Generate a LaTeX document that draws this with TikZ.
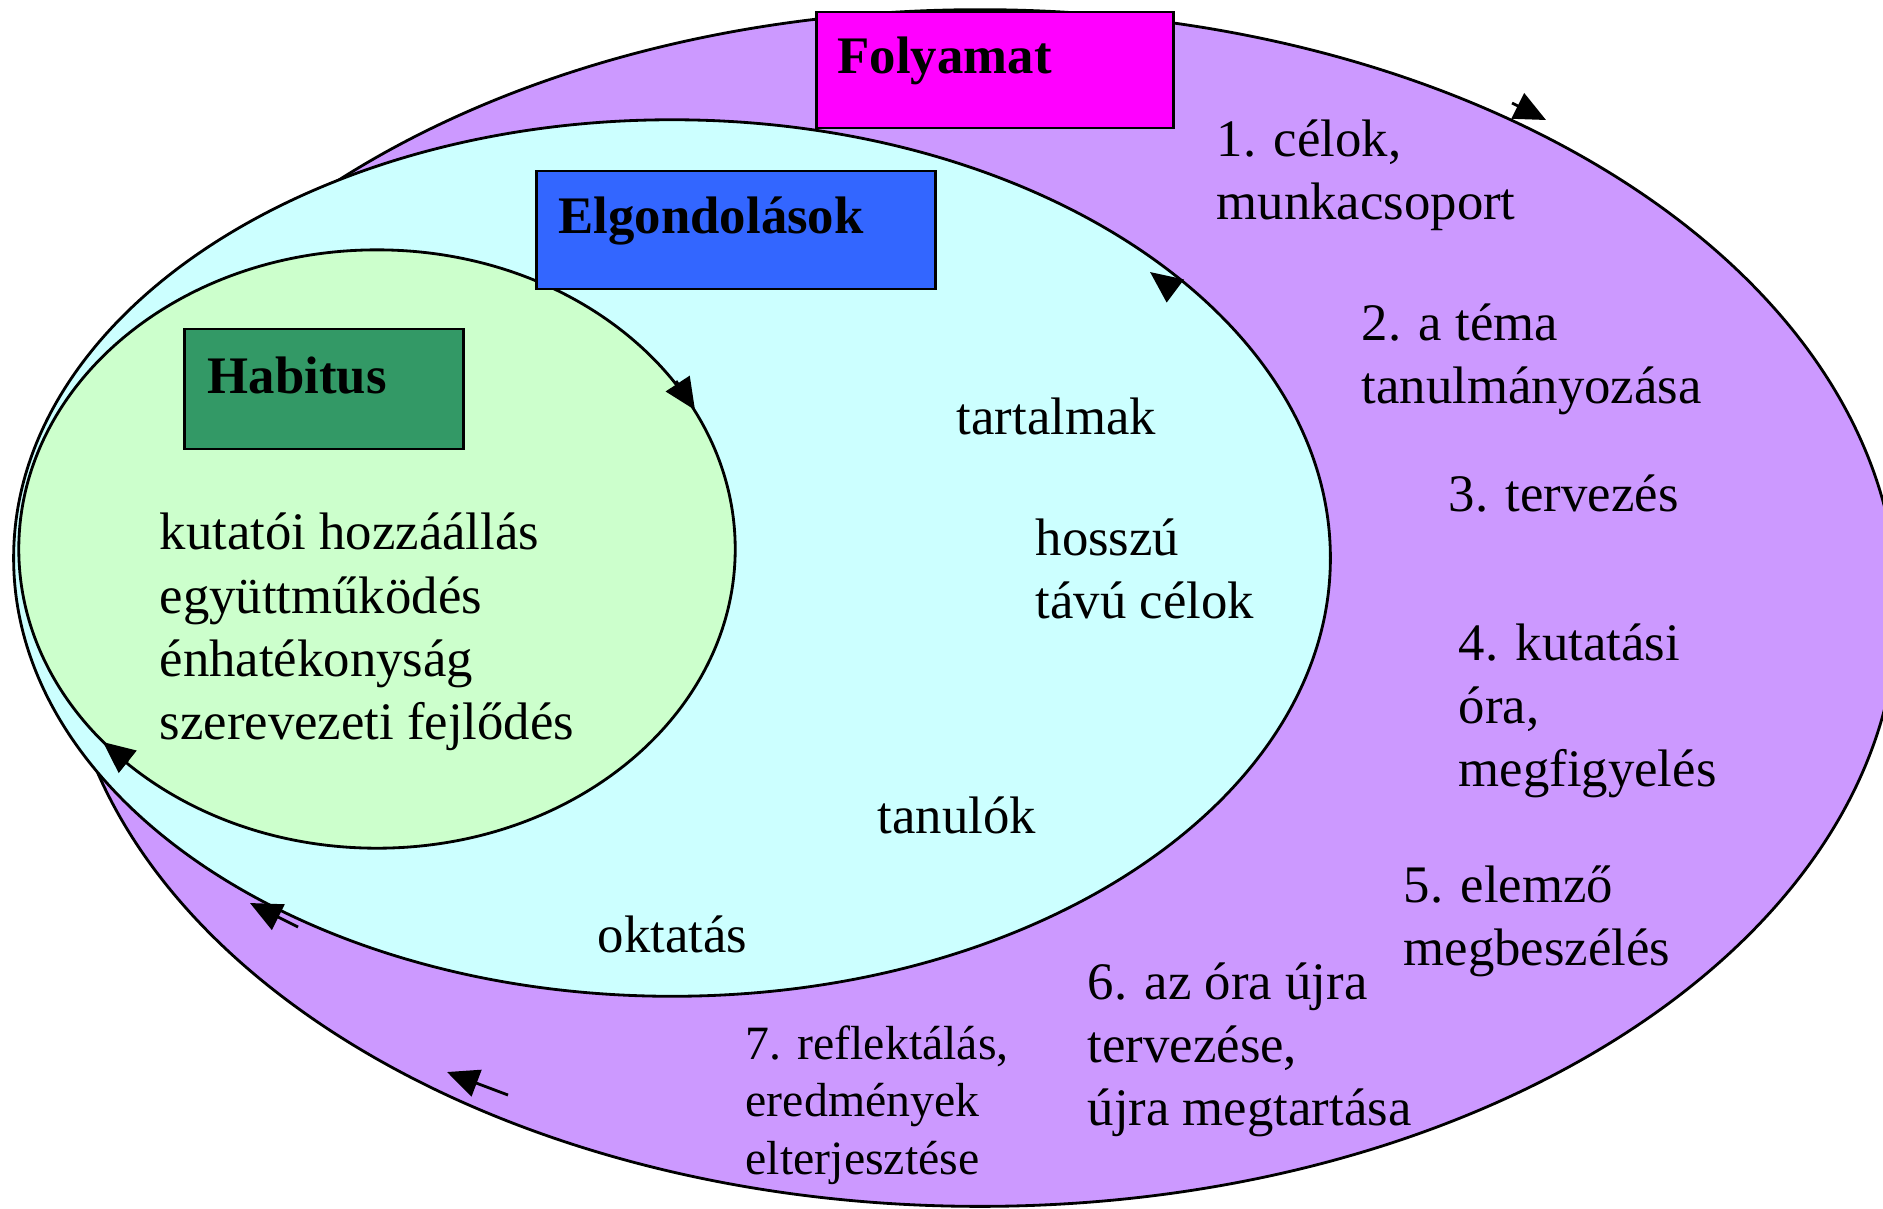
\documentclass[tikz,border=0pt]{standalone}
\usepackage{fontspec}
\setmainfont{Liberation Serif}
\usepackage{tikz}
\usetikzlibrary{shapes.geometric,arrows.meta}
\definecolor{procfill}{HTML}{CC99FF}
\definecolor{ideafill}{HTML}{CCFFFF}
\definecolor{habfill}{HTML}{CCFFCC}
\definecolor{procbox}{HTML}{FF00FF}
\definecolor{ideabox}{HTML}{3366FF}
\definecolor{habbox}{HTML}{339966}

\begin{document}
\begin{tikzpicture}[x=0.01cm,y=-0.01cm]
\tikzstyle{oval}=[ellipse, draw=black, line width=0.8pt, inner sep=0pt]
\tikzstyle{tbox}=[rectangle, draw=black, line width=0.8pt, inner sep=0pt]
\tikzstyle{title}=[anchor=west, inner sep=0pt, font=\fontsize{15}{18}\selectfont\bfseries]
\tikzstyle{txt}=[anchor=west, inner sep=0pt, align=left, font=\fontsize{15}{18}\selectfont]
\tikzstyle{small}=[txt, font=\fontsize{13.6}{16.3}\selectfont]
\tikzstyle{connect}=[-{Triangle[length=9pt,width=8pt]}, line width=0.8pt]

  \useasboundingbox (0,0) rectangle (1883,1208);
  \clip (0,0) rectangle (1883,1208);

  % the three ovals
  \node[oval, fill=procfill, minimum width=18.34cm, minimum height=11.96cm] (proc) at (980,608) {};
  \node[oval, fill=ideafill, minimum width=13.16cm, minimum height=8.76cm] (idea) at (672,558) {};
  \node[oval, fill=habfill,  minimum width=7.16cm,  minimum height=5.98cm] (hab)  at (377,549) {};

  % title boxes
  \node[tbox, fill=procbox, minimum width=3.57cm, minimum height=1.16cm] (procrect) at (995,70)  {};
  \node[tbox, fill=ideabox, minimum width=3.98cm, minimum height=1.18cm] (idearect) at (736,230) {};
  \node[tbox, fill=habbox,  minimum width=2.79cm, minimum height=1.20cm] (habrect)  at (324,389) {};

  \node[title] (proctitle) at (837,61)  {Folyamat};
  \node[title] (ideatitle) at (558,221) {Elgondolások};
  \node[title] (habtitle)  at (207,376) {Habitus};

  % steps
  \node[txt] (step1) at (1216,175) {1. célok,\\munkacsoport};
  \node[txt] (step2) at (1361,359) {2. a téma\\tanulmányozása};
  \node[txt] (step3) at (1448,494) {3. tervezés};
  \node[txt] (step4) at (1458,711) {4. kutatási\\óra,\\megfigyelés};
  \node[txt] (step5) at (1403,921) {5. elemző\\megbeszélés};
  \node[txt] (step6) at (1087,1050) {6. az óra újra\\tervezése,\\újra megtartása};
  \node[small] (step7) at (745,1105) {7. reflektálás,\\eredmények\\elterjesztése};

  \node[txt] (content)  at (956,416)  {tartalmak};
  \node[txt] (goals)    at (1035,569) {hosszú\\távú célok};
  \node[txt] (pupils)   at (877,815)  {tanulók};
  \node[txt] (teaching) at (597,934)  {oktatás};
  \node[txt] (habits)   at (159,632)  {kutatói hozzáállás\\együttműködés\\énhatékonyság\\szerevezeti fejlődés};

  % arrows along the ovals
  \coordinate (p1a) at (1512,103);  \coordinate (p1b) at (1546,120);
  \coordinate (i1a) at (1174,290);  \coordinate (i1b) at (1150,272);
  \coordinate (h1a) at (676,381);   \coordinate (h1b) at (695,410);
  \coordinate (h2a) at (128,762);   \coordinate (h2b) at (103,742);
  \coordinate (i2a) at (298,927);   \coordinate (i2b) at (250,903);
  \coordinate (p2a) at (508,1095);  \coordinate (p2b) at (447,1072);

  \path (p1a) edge [connect] (p1b);
  \path (i1a) edge [connect] (i1b);
  \path (h1a) edge [connect] (h1b);
  \path (h2a) edge [connect] (h2b);
  \path (i2a) edge [connect] (i2b);
  \path (p2a) edge [connect] (p2b);

\end{tikzpicture}
\end{document}
